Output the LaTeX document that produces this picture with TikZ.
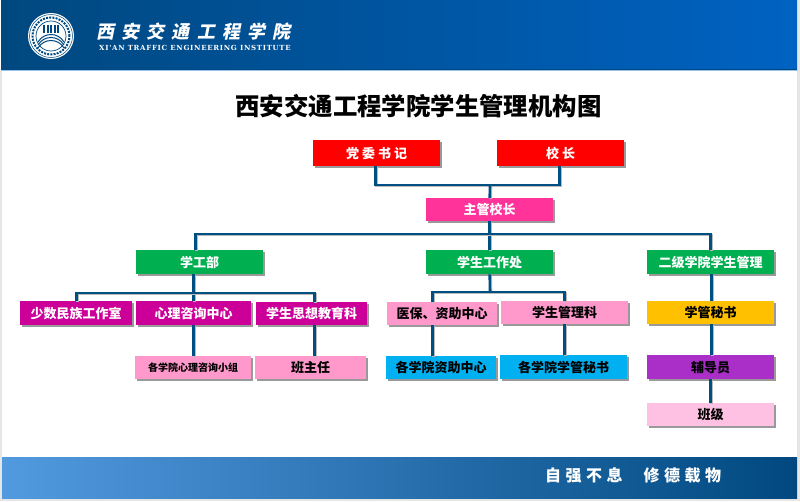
\documentclass[tikz,border=0pt]{standalone}
\usepackage{fontspec}
\setmainfont{Noto Sans CJK SC}
\newfontfamily\bannerfont[FakeSlant=0.2,LetterSpace=40]{Noto Sans CJK SC}
\newfontfamily\mottofont[LetterSpace=28]{Noto Sans CJK SC}
\newfontfamily\englishfont[LetterSpace=10]{DejaVu Serif}
\usetikzlibrary{shadows}

\definecolor{wireblue}{HTML}{004F82}
\definecolor{deepblue}{HTML}{00487F}
\definecolor{brightblue}{HTML}{0062C2}
\definecolor{skyblue}{HTML}{529ADF}
\definecolor{edgegray}{HTML}{E6E6E6}
\definecolor{hotpink}{HTML}{FF3399}
\definecolor{deptgreen}{HTML}{00B050}
\definecolor{officemagenta}{HTML}{CC0099}
\definecolor{softpink}{HTML}{FF99CC}
\definecolor{cyanblue}{HTML}{00B0F0}
\definecolor{gold}{HTML}{FFC000}
\definecolor{violet}{HTML}{A92FC8}
\definecolor{palepink}{HTML}{FFC1E3}

\tikzset{
    orgbox/.style={fill=#1, rectangle, inner sep=0pt, anchor=north west,
        minimum width=\boxwidth, minimum height=\boxheight,
        font=\fontsize{13}{13}\selectfont\bfseries,
        drop shadow={shadow xshift=2pt, shadow yshift=-2pt, fill=gray, opacity=0.8}},
    whitebox/.style={orgbox=#1, text=white},
    wire/.style={draw=wireblue, line width=2.6pt,
        preaction={draw=gray!55, line width=2.6pt, transform canvas={shift={(1pt,-1pt)}}}},
}

\begin{document}
\begin{tikzpicture}[x=1pt, y=-1pt]
    % Define box size
    \def\boxwidth{127pt}
    \def\boxheight{24pt}
    \def\narrowwidth{111pt}

    \useasboundingbox (0,0) rectangle (800,501);
    \fill[white] (0,0) rectangle (800,501);
    \fill[edgegray] (797,0) rectangle (800,501);
    \fill[edgegray] (0,498) rectangle (800,501);
    \fill[edgegray] (0,70) rectangle (1.5,501);

    % Banners
    \shade[left color=deepblue, right color=brightblue] (1,0) rectangle (797,70);
    \fill[deepblue] (1,69) rectangle (797,70);
    \fill[skyblue!60] (1,70) rectangle (797,71);
    \shade[left color=skyblue, right color=deepblue] (2,457) rectangle (797,498);

    % Logo
    \node[circle, fill=white, minimum size=46pt, inner sep=0pt] (logo) at (51,36) {};
    \draw[deepblue, line width=0.5pt] (logo) circle (21.5pt);
    \draw[deepblue, line width=2pt, dash pattern=on 2pt off 1.2pt] (logo) circle (18.5pt);
    \draw[deepblue, line width=0.7pt] (logo) circle (15pt);
    \foreach \x in {43,46.5,50,53.5,57} {
        \fill[deepblue] (\x,25) rectangle (\x+2,33);
    }
    \foreach \r in {0,3,6} {
        \draw[deepblue, line width=1pt] (38,42+\r) .. controls (44,32+\r) and (58,32+\r) .. (64,42+\r);
    }

    \node[anchor=west, text=white, inner sep=0pt, font=\fontsize{18}{18}\selectfont\bannerfont\bfseries] (schoolname) at (96,32) {西安交通工程学院};
    \node[anchor=west, text=white, inner sep=0pt, font=\fontsize{7}{8}\selectfont\englishfont\bfseries] (schoolen) at (99,48) {XI'AN TRAFFIC ENGINEERING INSTITUTE};
    \node[anchor=west, text=white, inner sep=0pt, font=\fontsize{16}{16}\selectfont\mottofont\bfseries] (motto) at (545,475) {自强不息\hspace{21pt}修德载物};

    % Title
    \node[inner sep=0pt, font=\fontsize{24.4}{26}\selectfont\bfseries] (title) at (418.5,106) {西安交通工程学院学生管理机构图};

    % Leaders
    \node[whitebox=red, minimum height=26pt] (shuji) at (313,140) {党 委 书 记};
    \node[whitebox=red, minimum height=26pt] (xiaozhang) at (497,140) {校 长};
    \node[whitebox=hotpink, minimum height=23pt] (zhuguan) at (426,198) {主管校长};

    % Departments
    \foreach \name/\x/\txt in {xuegong/136/学工部, xuesheng/426/学生工作处, erji/647/二级学院学生管理} {
        \node[whitebox=deptgreen] (\name) at (\x,250) {\txt};
    }

    % Under the student affairs department
    \node[whitebox=officemagenta, minimum width=112pt] (minzu) at (20,301) {少数民族工作室};
    \node[whitebox=officemagenta, minimum width=115pt] (xinli) at (136,301) {心理咨询中心};
    \node[whitebox=officemagenta, minimum width=\narrowwidth, minimum height=23pt] (sixiang) at (256,302) {学生思想教育科};
    \node[orgbox=softpink, minimum width=116pt, minimum height=23pt, font=\fontsize{10}{10}\selectfont\bfseries] (xiaozu) at (135,356) {各学院心理咨询小组};
    \node[orgbox=softpink, minimum width=\narrowwidth, minimum height=23pt] (banzhuren) at (255,356) {班主任};

    % Under the student work office
    \node[orgbox=softpink, minimum width=110pt, minimum height=23pt] (yibao) at (387,302) {医保、资助中心};
    \node[orgbox=softpink, minimum height=23pt] (guanli) at (501,301) {学生管理科};
    \node[orgbox=cyanblue, minimum width=110pt, minimum height=23pt] (zizhu) at (386,356) {各学院资助中心};
    \node[orgbox=cyanblue] (mishu) at (500,355) {各学院学管秘书};

    % Under the colleges
    \node[orgbox=gold, minimum height=23pt] (xueguan) at (647,301) {学管秘书};
    \node[orgbox=violet] (fudao) at (647,355) {辅导员};
    \node[orgbox=palepink, minimum height=23pt] (banji) at (647,403) {班级};

    % Connectors
    \coordinate (leaderbus) at (490,185);
    \coordinate (mainbus) at (490,234);
    \coordinate (xuegongbus) at (194,293);
    \coordinate (xueshengbus) at (490,292);

    \draw[wire] ([xshift=-1pt]shuji.south) |- (leaderbus) -| ([xshift=-1pt]xiaozhang.south);
    \draw[wire] (leaderbus) -- (zhuguan.north);
    \draw[wire] (zhuguan.south) -- (xuesheng.north);
    \draw[wire] ([xshift=-4.5pt]xuegong.north) |- (mainbus) -| (erji.north);

    \draw[wire] (xinli.north |- xuegong.south) -- (xinli.north);
    \draw[wire] (minzu.north) |- (xuegongbus) -| ([xshift=3pt]sixiang.north);
    \draw[wire] (xinli.south) -- (xinli.south |- xiaozu.north);
    \draw[wire] ([xshift=3pt]sixiang.south) -- ([xshift=3pt]sixiang.south |- banzhuren.north);

    \draw[wire] (xuesheng.south) -- (xueshengbus);
    \draw[wire] ([xshift=-10pt]yibao.north) |- (xueshengbus) -| (guanli.north);
    \draw[wire] ([xshift=-10pt]yibao.south) -- ([xshift=-10pt]yibao.south |- zizhu.north);
    \draw[wire] (guanli.south) -- (guanli.south |- mishu.north);

    \draw[wire] ([xshift=1pt]erji.south) -- ([xshift=1pt]erji.south |- xueguan.north);
    \draw[wire] ([xshift=1pt]xueguan.south) -- ([xshift=1pt]xueguan.south |- fudao.north);
    \draw[wire] (fudao.south) -- (banji.north);
\end{tikzpicture}
\end{document}
